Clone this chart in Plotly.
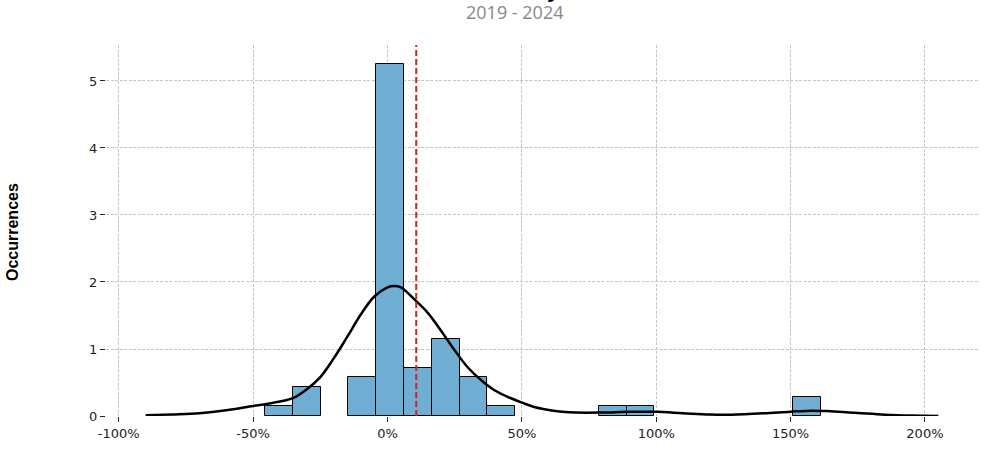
import plotly.graph_objects as go

# ---- data ----
bin_start = -45.6          # left edge of first bin, in %
bin_width = 10.35          # bin width, in %
bin_density = [0.145, 0.428, None, 0.578, 5.254, 0.72, 1.154, 0.578, 0.145, None,
               None, None, 0.145, 0.145, None, None, None, None, None, 0.28]

kde_x = [-90, -80, -70, -60, -50, -45, -40, -35, -30, -25, -20, -15, -10, -5,
         0, 2.5, 5, 10, 15, 20, 25, 30, 35, 40, 45, 50, 55, 60, 65, 70, 80, 90, 100,
         110, 120, 128, 140, 150, 158, 165, 175, 185, 195, 205]
kde_y = [0.012, 0.024, 0.042, 0.085, 0.15, 0.18, 0.215, 0.27, 0.40, 0.58, 0.86, 1.18, 1.51, 1.78,
         1.92, 1.94, 1.92, 1.74, 1.54, 1.27, 0.98, 0.72, 0.53, 0.38, 0.28, 0.2, 0.13, 0.09, 0.065,
         0.052, 0.052, 0.062, 0.063, 0.042, 0.022, 0.02, 0.04, 0.065, 0.08, 0.07, 0.045, 0.02, 0.006, 0.0]

mean_return = 10.7

x_ticks = [-100, -50, 0, 50, 100, 150, 200]
x_tick_labels = ["-100%", "-50%", "0%", "50%", "100%", "150%", "200%"]
y_ticks = [0, 1, 2, 3, 4, 5]
y_tick_labels = ["0", "1", "2", "3", "4", "5"]

title_text = "Monthly"
subtitle_text = "2019 - 2024"
y_title = "Occurrences"

# ---- figure ----
bin_centers = [bin_start + (i + 0.5) * bin_width for i in range(len(bin_density))]

fig = go.Figure()
fig.add_trace(go.Bar(
    x=bin_centers, y=bin_density, width=bin_width,
    marker=dict(color="#70aed3", line=dict(color="#000000", width=1)),
    showlegend=False, hoverinfo="skip"))
fig.add_trace(go.Scatter(
    x=kde_x, y=kde_y, mode="lines",
    line=dict(color="#000000", width=2.5, shape="spline", smoothing=1.0),
    showlegend=False, hoverinfo="skip"))

fig.add_shape(type="line", xref="x", yref="paper", x0=mean_return, x1=mean_return,
              y0=0, y1=1, line=dict(color="#d42020", width=2, dash="6px,3px"), layer="above")

W, H = 994, 455
ml, mr, mt, mb = 106, 16, 45, 39
pw = W - ml - mr
ph = H - mt - mb

def px_to_paper_x(px):
    return (px - ml) / pw

def px_to_paper_y(py):
    return (H - mb - py) / ph

fig.add_annotation(text="<b>" + title_text + "</b>", xref="paper", yref="paper",
                   x=px_to_paper_x(514.5), y=px_to_paper_y(-11.5), xanchor="center", yanchor="middle",
                   showarrow=False, font=dict(family="Open Sans", size=22, color="#000000"))
fig.add_annotation(text=subtitle_text, xref="paper", yref="paper",
                   x=px_to_paper_x(514.5), y=px_to_paper_y(11.5), xanchor="center", yanchor="middle",
                   showarrow=False, font=dict(family="Open Sans", size=18, color="#888888"))
fig.add_annotation(text="<b>" + y_title + "</b>", xref="paper", yref="paper",
                   x=px_to_paper_x(12), y=px_to_paper_y(232), xanchor="center", yanchor="middle",
                   textangle=-90, showarrow=False,
                   font=dict(family="Liberation Sans", size=16, color="#000000"))

grid = dict(showgrid=True, gridcolor="#c6c6c6", gridwidth=0.6, griddash="3px,1.5px")
fig.update_xaxes(range=[-104.75, 219.75], tickmode="array", tickvals=x_ticks, ticktext=x_tick_labels,
                 ticks="outside", ticklen=5, tickcolor="#222222", tickwidth=1,
                 tickfont=dict(family="DejaVu Sans", size=13, color="#222222"),
                 zeroline=False, showline=False, **grid)
fig.update_yaxes(range=[0, 5.537], tickmode="array", tickvals=y_ticks, ticktext=y_tick_labels,
                 ticks="outside", ticklen=5, tickcolor="#222222", tickwidth=1,
                 tickfont=dict(family="DejaVu Sans", size=13, color="#222222"),
                 zeroline=False, showline=False, **grid)

fig.update_layout(width=W, height=H, margin=dict(l=ml, r=mr, t=mt, b=mb),
                  paper_bgcolor="white", plot_bgcolor="white", bargap=0, showlegend=False)

fig.write_html("out.html")
